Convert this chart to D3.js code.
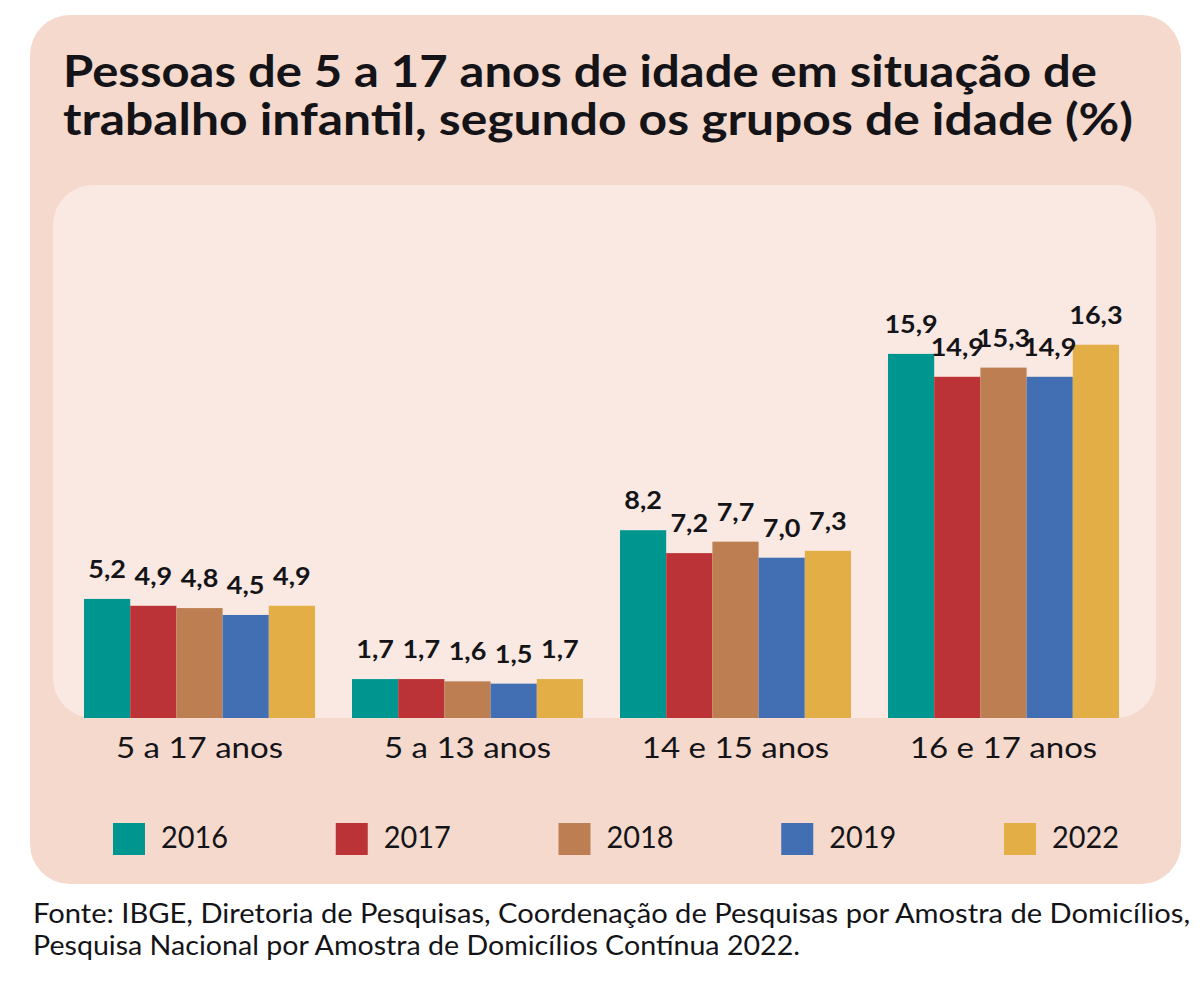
<!DOCTYPE html>
<html><head><meta charset="utf-8">
<script src="https://cdn.jsdelivr.net/npm/d3@7"></script>
<style>
body{margin:0;background:#ffffff;}
svg{display:block;}
text{font-family:Lato,"Open Sans",sans-serif;fill:#141418;}
</style>
</head><body>
<svg id="chart" width="1200" height="981"></svg>
<script>
const categories = ["5 a 17 anos", "5 a 13 anos", "14 e 15 anos", "16 e 17 anos"];
const years = ["2016", "2017", "2018", "2019", "2022"];
const values2016 = [5.2, 1.7, 8.2, 15.9];
const values2017 = [4.9, 1.7, 7.2, 14.9];
const values2018 = [4.8, 1.6, 7.7, 15.3];
const values2019 = [4.5, 1.5, 7.0, 14.9];
const values2022 = [4.9, 1.7, 7.3, 16.3];
const seriesColors = ["#009690", "#bb3336", "#bd7f52", "#426eb4", "#e2ae45"];
const titleLines = ["Pessoas de 5 a 17 anos de idade em situação de",
                    "trabalho infantil, segundo os grupos de idade (%)"];
const sourceLines = ["Fonte: IBGE, Diretoria de Pesquisas, Coordenação de Pesquisas por Amostra de Domicílios,",
                     "Pesquisa Nacional por Amostra de Domicílios Contínua 2022."];

const seriesValues = [values2016, values2017, values2018, values2019, values2022];
const data = categories.map((c, i) => ({
  category: c,
  items: years.map((y, j) => ({year: y, value: seriesValues[j][i]}))
}));

const svg = d3.select("#chart");
const locale = d3.formatLocale({decimal: ",", thousands: ".", grouping: [3], currency: ["R$", ""]});
const fmt = locale.format(".1f");

// stretch a text node horizontally by a factor (mimics the wider original typeface)
function widen(sel, factor) {
  sel.each(function() {
    const len = this.getComputedTextLength();
    d3.select(this).attr("textLength", len * factor).attr("lengthAdjust", "spacingAndGlyphs");
  });
}

// panels
svg.append("rect").attr("x", 30).attr("y", 15).attr("width", 1151).attr("height", 869)
  .attr("rx", 40).attr("fill", "#f4d9cc");
svg.append("rect").attr("x", 53).attr("y", 185).attr("width", 1103).attr("height", 533)
  .attr("rx", 40).attr("fill", "#f9e9e2");

// title
const titleWidths = [1034, 1070];
svg.append("g").selectAll("text").data(titleLines).join("text")
  .attr("x", 63).attr("y", (d, i) => 87 + i * 48)
  .attr("font-size", 44).attr("font-weight", 700)
  .attr("textLength", (d, i) => titleWidths[i]).attr("lengthAdjust", "spacingAndGlyphs")
  .text(d => d);

const baseline = 718;
const x0 = d3.scaleBand().domain(categories).range([84, 1119]).paddingInner(0.138).paddingOuter(0);
const x1 = d3.scaleBand().domain(years).range([0, x0.bandwidth()]).padding(0);
const y = d3.scaleLinear().domain([0, 20]).range([baseline, baseline - 458]);
const color = d3.scaleOrdinal().domain(years).range(seriesColors);

const groups = svg.append("g").selectAll("g").data(data).join("g")
  .attr("transform", d => `translate(${x0(d.category)},0)`);

groups.selectAll("rect").data(d => d.items).join("rect")
  .attr("x", d => x1(d.year)).attr("width", x1.bandwidth())
  .attr("y", d => y(d.value)).attr("height", d => y(0) - y(d.value))
  .attr("fill", d => color(d.year));

groups.selectAll("text.val").data(d => d.items).join("text").attr("class", "val")
  .attr("x", d => x1(d.year) + x1.bandwidth() / 2)
  .attr("y", d => y(d.value) - 21)
  .attr("text-anchor", "middle").attr("font-size", 25).attr("font-weight", 700)
  .text(d => fmt(d.value))
  .call(widen, 1.08);

// category axis
const xAxis = svg.append("g").attr("transform", `translate(0,${baseline})`)
  .call(d3.axisBottom(x0).tickSize(0).tickPadding(0));
xAxis.select(".domain").remove();
xAxis.selectAll("text").attr("y", 40).attr("dy", 0)
  .attr("font-size", 28).attr("font-family", "Lato, sans-serif").attr("fill", "#1c1c22")
  .call(widen, 1.18);

// legend
const lx = d3.scalePoint().domain(years).range([113, 1004]);
const leg = svg.append("g").selectAll("g").data(years).join("g")
  .attr("transform", d => `translate(${lx(d)},823)`);
leg.append("rect").attr("width", 32).attr("height", 32).attr("fill", d => color(d));
leg.append("text").attr("x", 48).attr("y", 25).attr("font-size", 30)
  .attr("textLength", 67).attr("lengthAdjust", "spacingAndGlyphs").text(d => d);

// source
const sourceWidths = [1157, 767];
svg.append("g").selectAll("text").data(sourceLines).join("text")
  .attr("x", 33).attr("y", (d, i) => 923 + i * 32)
  .attr("font-size", 27)
  .attr("textLength", (d, i) => sourceWidths[i]).attr("lengthAdjust", "spacingAndGlyphs")
  .text(d => d);
</script>
</body></html>
